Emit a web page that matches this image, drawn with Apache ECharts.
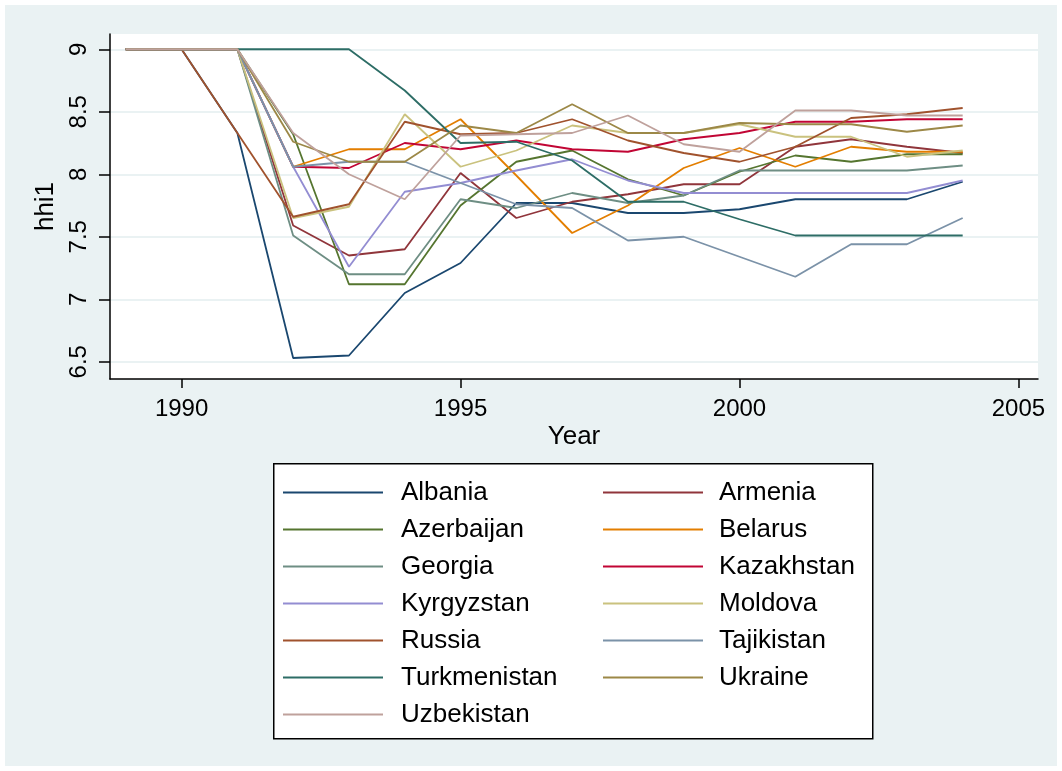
<!DOCTYPE html>
<html>
<head>
  <meta charset="utf-8">
  <script src="https://cdn.jsdelivr.net/npm/echarts@6/dist/echarts.min.js"></script>
  <style>
    html, body { margin: 0; padding: 0; background: #fff; }
  </style>
  <title>hhi1 by year</title>
  <script type="text/javascript">

    const years = [1989, 1990, 1991, 1992, 1993, 1994, 1995, 1996, 1997, 1998, 1999, 2000, 2001, 2002, 2003, 2004];

    const albania      = [9, 9, 8.33, 6.53, 6.55, 7.05, 7.29, 7.77, 7.77, 7.69, 7.69, 7.72, 7.80, 7.80, 7.80, 7.94];
    const armenia      = [9, 9, 9, 7.59, 7.35, 7.40, 8.01, 7.65, 7.78, 7.84, 7.92, 7.92, 8.22, 8.28, 8.22, 8.17];
    const azerbaijan   = [9, 9, 9, 8.32, 7.12, 7.12, 7.75, 8.10, 8.19, 7.96, 7.83, 8.02, 8.15, 8.10, 8.16, 8.16];
    const belarus      = [9, 9, 9, 8.06, 8.20, 8.20, 8.44, 7.99, 7.53, 7.75, 8.05, 8.21, 8.06, 8.22, 8.18, 8.18];
    const georgia      = [9, 9, 9, 7.51, 7.20, 7.20, 7.80, 7.73, 7.85, 7.77, 7.83, 8.03, 8.03, 8.03, 8.03, 8.07];
    const kazakhstan   = [9, 9, 9, 8.06, 8.05, 8.25, 8.20, 8.27, 8.20, 8.18, 8.28, 8.33, 8.42, 8.42, 8.44, 8.44];
    const kyrgyzstan   = [9, 9, 9, 8.06, 7.26, 7.86, 7.93, 8.03, 8.12, 7.95, 7.85, 7.85, 7.85, 7.85, 7.85, 7.95];
    const moldova      = [9, 9, 9, 7.65, 7.74, 8.48, 8.06, 8.19, 8.39, 8.33, 8.33, 8.40, 8.30, 8.30, 8.14, 8.19];
    const russia       = [9, 9, 8.33, 7.66, 7.76, 8.42, 8.32, 8.33, 8.44, 8.27, 8.17, 8.10, 8.22, 8.45, 8.48, 8.53];
    const tajikistan   = [9, 9, 9, 8.06, 8.10, 8.10, 7.93, 7.76, 7.73, 7.47, 7.50, 7.34, 7.18, 7.44, 7.44, 7.65];
    const turkmenistan = [9, 9, 9, 9, 9, 8.67, 8.25, 8.26, 8.11, 7.78, 7.78, 7.64, 7.51, 7.51, 7.51, 7.51];
    const ukraine      = [9, 9, 9, 8.26, 8.10, 8.10, 8.39, 8.33, 8.56, 8.33, 8.33, 8.41, 8.40, 8.40, 8.34, 8.39];
    const uzbekistan   = [9, 9, 9, 8.33, 8.00, 7.80, 8.31, 8.32, 8.33, 8.47, 8.24, 8.18, 8.51, 8.51, 8.47, 8.47];

    const countries = ['Albania', 'Armenia', 'Azerbaijan', 'Belarus', 'Georgia', 'Kazakhstan', 'Kyrgyzstan',
                       'Moldova', 'Russia', 'Tajikistan', 'Turkmenistan', 'Ukraine', 'Uzbekistan'];
    const values = [albania, armenia, azerbaijan, belarus, georgia, kazakhstan, kyrgyzstan,
                    moldova, russia, tajikistan, turkmenistan, ukraine, uzbekistan];
    // stata s2color
    const colors = ['#1a476f', '#90353b', '#55752f', '#e37e00', '#6e8e84', '#c10534', '#938dd2',
                    '#cac27e', '#a0522d', '#7b92a8', '#2d6d66', '#9c8847', '#bfa19c'];

    const legendLeftCol = ['Albania', 'Azerbaijan', 'Georgia', 'Kyrgyzstan', 'Russia', 'Turkmenistan', 'Uzbekistan'];
    const legendRightCol = ['Armenia', 'Belarus', 'Kazakhstan', 'Moldova', 'Tajikistan', 'Ukraine'];

    const xTicks = [1990, 1995, 2000, 2005];
    const yTicks = [6.5, 7, 7.5, 8, 8.5, 9];

    const FONT = 'Liberation Sans, Arial, sans-serif';

    function makeLegend(left, names, textPad) {
      return {
        left: left,
        top: 474,
        data: names,
        orient: 'vertical',
        padding: 0,
        icon: 'path://M0,0 L100,0 L100,2 L0,2 Z',
        itemWidth: 102,
        itemHeight: 2,
        itemGap: 0,
        selectedMode: false,
        textStyle: { fontFamily: FONT, fontSize: 26, color: '#000', lineHeight: 37, padding: [0, 0, 0, textPad] }
      };
    }

    function init() {
      myChart = echarts.init(document.getElementById('main'));
      var series = countries.map(function (name, i) {
        return {
          name: name,
          type: 'line',
          symbol: 'none',
          animation: false,
          lineStyle: { width: 1.8, color: colors[i] },
          itemStyle: { color: colors[i] },
          data: years.map(function (y, j) { return [y, values[i][j]]; })
        };
      });
      option = {
        color: colors,
        backgroundColor: '#fff',
        graphic: [
          { type: 'rect', left: 5, top: 5, shape: { width: 1052, height: 761 }, style: { fill: '#eaf2f3' }, z: -10 },
          { type: 'rect', left: 273, top: 463, shape: { width: 599, height: 275 },
            style: { fill: '#fff', stroke: '#000', lineWidth: 1.5 }, z: -5 }
        ],
        grid: { left: 110, right: 24, top: 34, bottom: 392, show: true, backgroundColor: '#fff', borderWidth: 0 },
        xAxis: {
          type: 'value',
          min: 1988.717,
          max: 2005.35,
          name: 'Year',
          nameLocation: 'middle',
          nameGap: 45,
          nameTextStyle: { fontFamily: FONT, fontSize: 26, color: '#000' },
          axisLine: { lineStyle: { color: '#000', width: 1.5 } },
          axisTick: { length: 9, lineStyle: { color: '#000', width: 1.5 }, customValues: xTicks },
          axisLabel: { customValues: xTicks, formatter: function (v) { return String(v); },
                       fontFamily: FONT, fontSize: 24, color: '#000', margin: 18 },
          splitLine: { show: false }
        },
        yAxis: {
          type: 'value',
          min: 6.362,
          max: 9.122,
          name: 'hhi1',
          nameLocation: 'middle',
          nameRotate: 90,
          nameGap: 50,
          nameTextStyle: { fontFamily: FONT, fontSize: 26, color: '#000' },
          axisLine: { show: true, lineStyle: { color: '#000', width: 1.5 } },
          axisTick: { show: true, length: 11, lineStyle: { color: '#000', width: 1.5 }, customValues: yTicks },
          axisLabel: { customValues: yTicks, formatter: function (v) { return String(v); }, rotate: 90,
                       fontFamily: FONT, fontSize: 24, color: '#000', margin: 19 },
          splitLine: { show: true, lineStyle: { color: '#eaf2f3', width: 2 } }
        },
        legend: [
          makeLegend(283, legendLeftCol, 12),
          makeLegend(603, legendRightCol, 10)
        ],
        series: series
      };
      myChart.setOption(option);
    }
  </script>
</head>
<body onload="init()">
  <div id="main" style="width: 1062px; height: 771px;"></div>
</body>
</html>
